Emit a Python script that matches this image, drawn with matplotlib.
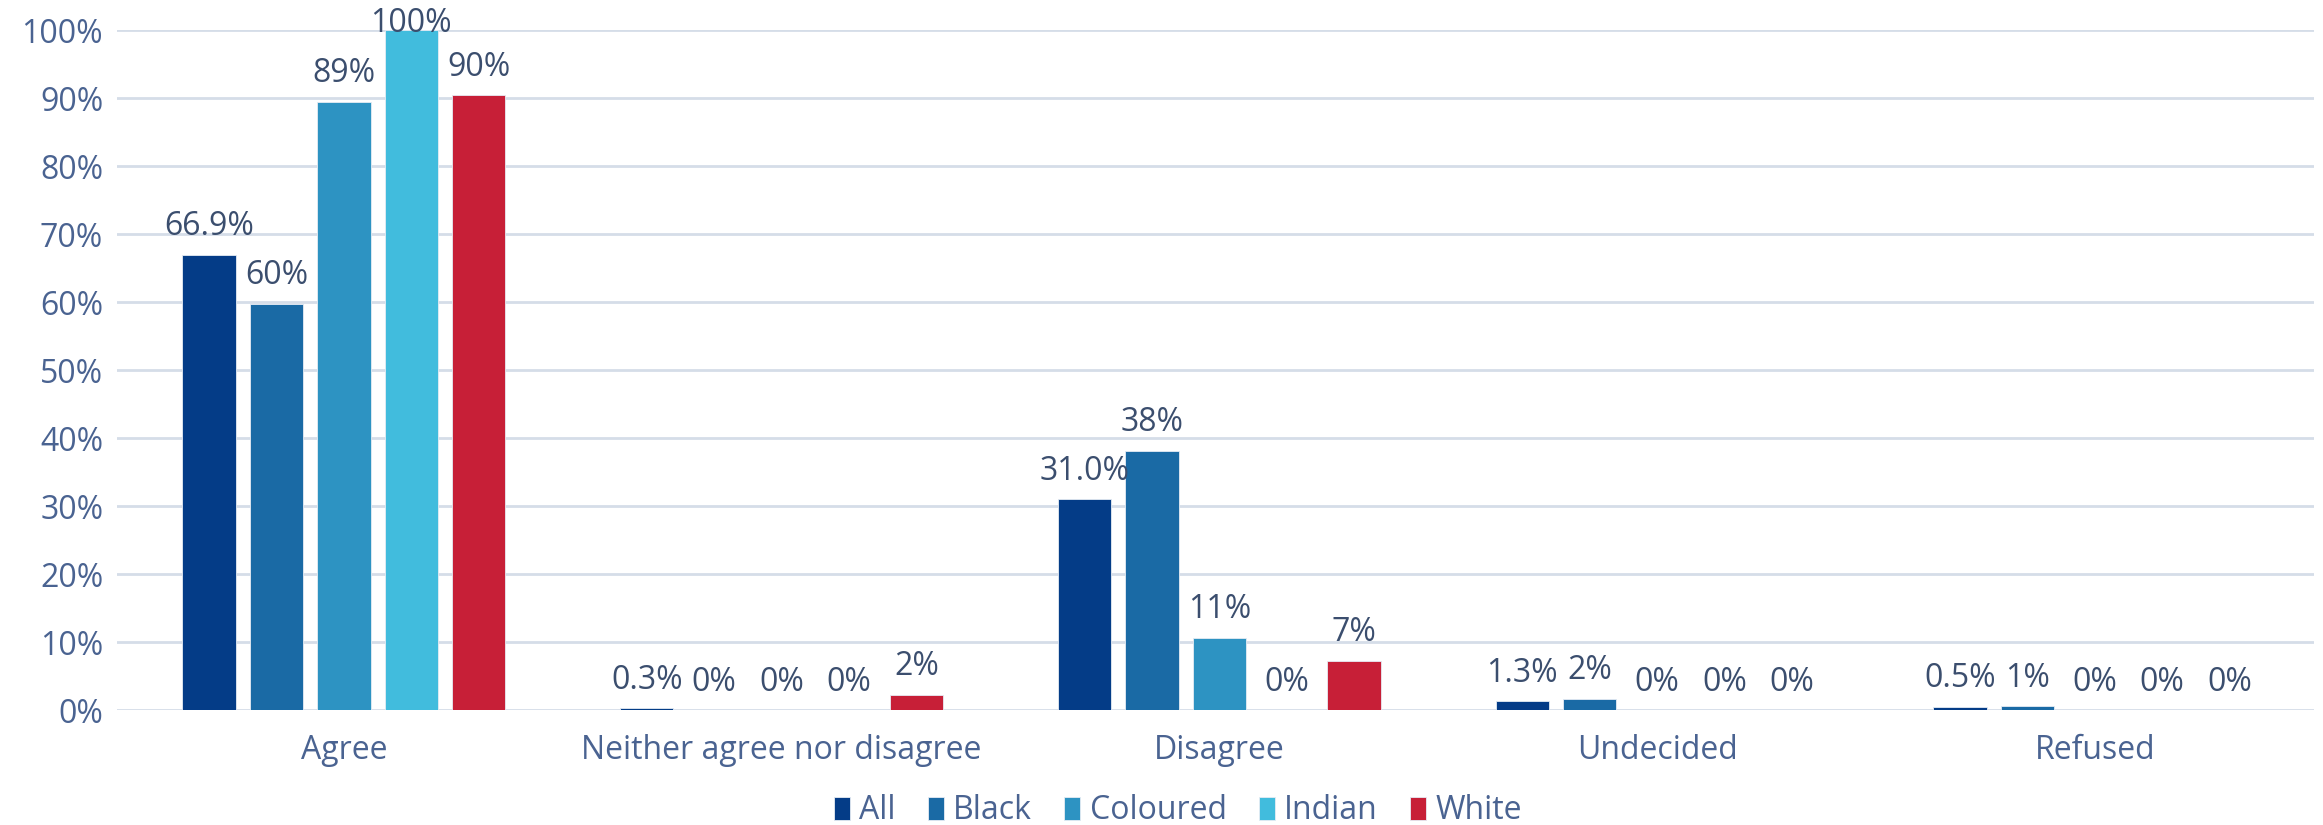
import numpy as np
import matplotlib.pyplot as plt

# Data
categories = ['Agree', 'Neither agree nor disagree', 'Disagree', 'Undecided', 'Refused']
groups = ['All', 'Black', 'Coloured', 'Indian', 'White']
all_vals = [66.9, 0.3, 31.0, 1.3, 0.5]
black_vals = [59.7, 0.0, 38.1, 1.7, 0.6]
coloured_vals = [89.4, 0.0, 10.6, 0.0, 0.0]
indian_vals = [100.0, 0.0, 0.0, 0.0, 0.0]
white_vals = [90.4, 2.3, 7.3, 0.0, 0.0]
series = [all_vals, black_vals, coloured_vals, indian_vals, white_vals]
colors = ['#043c87', '#1a6aa5', '#2d93c2', '#41bcdd', '#c71f37']

text_col = '#3b4e6e'
tick_col = '#4a6391'
plt.rcParams['font.family'] = ['Open Sans', 'DejaVu Sans']
fs = 23

fig = plt.figure(figsize=(23.23, 8.25), dpi=100)
ax = fig.add_axes([0.0504, 0.139, 0.9456, 0.8246])

x = np.arange(len(categories))
slot = 0.154
width = 0.122
for i, (vals, name, c) in enumerate(zip(series, groups, colors)):
    pos = x + (i - 2) * slot
    bars = ax.bar(pos, vals, width, color=c, label=name, edgecolor='#e6ecf4', linewidth=0.6, zorder=3)
    for b, v in zip(bars, vals):
        lab = f'{v:.1f}%' if name == 'All' else f'{v:.0f}%'
        ax.text(b.get_x() + b.get_width() / 2, min(v + 2.9, 99.7), lab, ha='center', va='baseline',
                fontsize=fs, color=text_col, clip_on=False, zorder=4)

ax.set_xlim(-0.518, len(categories) - 0.5)
ax.set_ylim(0, 100)
ax.set_yticks(np.arange(0, 101, 10))
ax.set_yticklabels([f'{t}%' for t in range(0, 101, 10)])
ax.set_xticks(x)
ax.set_xticklabels(categories)
ax.tick_params(axis='y', length=0, pad=10, labelsize=fs, labelcolor=tick_col)
ax.tick_params(axis='x', length=0, pad=17, labelsize=fs, labelcolor=tick_col)
ax.grid(axis='y', color='#d5dde8', linewidth=2, zorder=0)
for s in ax.spines.values():
    s.set_visible(False)

leg = ax.legend(loc='center', bbox_to_anchor=(0.507, 0.017), bbox_transform=fig.transFigure, ncol=5,
                frameon=False, fontsize=fs, handlelength=0.5, handleheight=0.75, handletextpad=0.3,
                columnspacing=1.0, borderpad=0.1)
for t in leg.get_texts():
    t.set_color(tick_col)

fig.savefig('out.png', dpi=100)
